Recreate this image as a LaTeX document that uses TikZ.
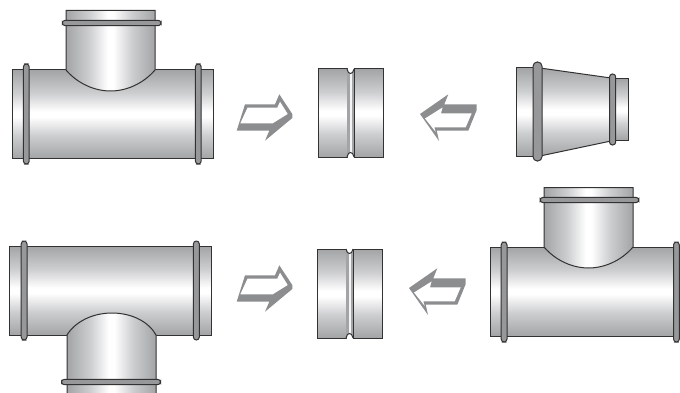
\documentclass[tikz,border=0pt]{standalone}
\definecolor{edgeG}{HTML}{A3A4A6}
\definecolor{midG}{HTML}{CDCED0}
\definecolor{inkL}{HTML}{333233}
\definecolor{bandG}{HTML}{97989A}
\definecolor{arrG}{HTML}{8C8D8F}
\pgfdeclareverticalshading{pipeV}{100bp}{color(0bp)=(edgeG); color(25bp)=(edgeG); color(38bp)=(midG); color(48.5bp)=(white); color(51.5bp)=(white); color(62bp)=(midG); color(75bp)=(edgeG); color(100bp)=(edgeG)}
\pgfdeclarehorizontalshading{pipeH}{100bp}{color(0bp)=(edgeG); color(25bp)=(edgeG); color(38bp)=(midG); color(48.5bp)=(white); color(51.5bp)=(white); color(62bp)=(midG); color(75bp)=(edgeG); color(100bp)=(edgeG)}
\pgfdeclarehorizontalshading{grooveH}{100bp}{color(0bp)=(edgeG); color(38bp)=(edgeG); color(47bp)=(white); color(53bp)=(white); color(62bp)=(edgeG); color(100bp)=(edgeG)}
\tikzset{
  pipev/.style={draw=inkL,line width=.75pt,shade,shading=pipeV},
  pipeh/.style={draw=inkL,line width=.75pt,shade,shading=pipeH},
  groovefill/.style={shade,shading=grooveH},
  ink/.style={draw=inkL,line width=.75pt},
  band/.style={draw=inkL,line width=.75pt,fill=bandG,rounded corners=2.2pt},
  arrowouter/.style={fill=arrG},
  arrowinner/.style={fill=white},
}
\newcommand{\coupler}[3]{%
  \begin{scope}[xshift=#1*.75pt]
    \path[pipev] (0,#2) rectangle (29,#3);
    \path[pipev] (36,#2) rectangle (65,#3);
    \path[groovefill] (29.4,#2+2) rectangle (35.6,#3-2);
    \draw[ink,fill=white] (29,#2) .. controls (30,#2+6) and (35,#2+6) .. (36,#2);
    \draw[ink,fill=white] (29,#3) .. controls (30,#3-6) and (35,#3-6) .. (36,#3);
  \end{scope}}
\newcommand{\arrowR}[2]{%
  \begin{scope}[xshift=#1*.75pt,yshift=-#2*.75pt]
    \path[arrowouter] (245,104.3)--(275,104.3)--(279.3,94.3)--(292.3,114)--(292.3,118)--(265,140.7)--(269.3,130.7)--(236.7,130.7)--cycle;
    \path[arrowinner] (247.5,107.7)--(277.3,107.7)--(280,101.7)--(287.7,114)--(272.7,123.3)--(240.3,123.3)--cycle;
  \end{scope}}
\newcommand{\arrowL}[2]{%
  \begin{scope}[xshift=#1*.75pt,yshift=-#2*.75pt]
    \path[arrowouter] (448.3,94.3)--(444.3,104.3)--(476.7,104.3)--(476.7,110)--(468.3,130.7)--(436.7,130.7)--(439,141)--(420,114)--cycle;
    \path[arrowinner] (442.5,107.5)--(441,113.3)--(471.7,113.3)--(465.7,127.3)--(434.3,127.3)--(435.7,132)--(425,118.5)--cycle;
  \end{scope}}
\begin{document}
\begin{tikzpicture}[x=.75pt,y=-.75pt]
\useasboundingbox (0,0) rectangle (680,392);
\clip (0,0) rectangle (680,392);
% top-left tee
\path[pipev] (12,70) rectangle (213,158.5);
\path[pipeh] (66,70) .. controls (78,84) and (95,91) .. (110.5,91) .. controls (126,91) and (143,84) .. (155,70) -- (155,10.5) -- (66,10.5) -- cycle;
\path[band] (23.4,64) rectangle (29.2,164);
\path[band] (195.4,64) rectangle (201.2,164);
\path[band] (62.3,20.3) rectangle (161,25.7);
% top coupler
\coupler{318}{69}{157}
% reducer
\path[pipev] (516,68) rectangle (534,156);
\path[pipev] (540,68) -- (611,78) -- (611,141) -- (540,156) -- cycle;
\path[pipev] (615,79) rectangle (628.5,140);
\path[band,rounded corners=3.2pt] (533,62) rectangle (542,161);
\path[band,rounded corners=2.2pt] (609.5,74) rectangle (615.7,145);
% arrows
\arrowR{0}{0}
\arrowL{0}{0}
\arrowR{0}{171}
\arrowL{-11}{174}
% bottom-left tee
\path[pipev] (9.5,246) rectangle (211,335);
\path[pipeh] (67,335) .. controls (75,322) and (92,313) .. (112,313) .. controls (132,313) and (149,322) .. (156,335) -- (156,400) -- (67,400) -- cycle;
\path[band] (21.2,241) rectangle (27,340);
\path[band] (193.4,241) rectangle (199.3,340);
\path[band] (61.5,379.3) rectangle (160.5,384.7);
% bottom coupler
\coupler{317}{249}{338}
% right tee
\path[pipev] (490,247) rectangle (676,336);
\path[pipeh] (544,247) .. controls (556,261) and (573,268) .. (588.5,268) .. controls (604,268) and (621,261) .. (633,247) -- (633,187.5) -- (544,187.5) -- cycle;
\path[band] (501.2,242) rectangle (507,342);
\path[band] (673.5,242) rectangle (679.3,342);
\path[band] (540.2,197.3) rectangle (638.8,202.7);
\end{tikzpicture}
\end{document}
